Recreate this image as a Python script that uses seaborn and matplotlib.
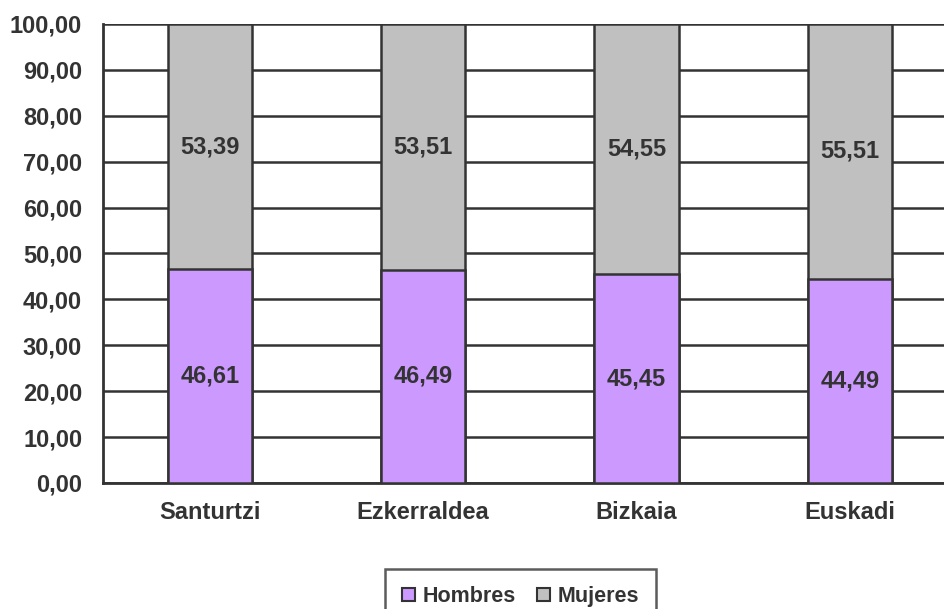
import pandas as pd
import matplotlib.pyplot as plt
import seaborn as sns
from matplotlib.patches import Patch

regions = ["Santurtzi", "Ezkerraldea", "Bizkaia", "Euskadi"]
hombres = [46.61, 46.49, 45.45, 44.49]
mujeres = [53.39, 53.51, 54.55, 55.51]
yticks = [0, 10, 20, 30, 40, 50, 60, 70, 80, 90, 100]

df = pd.DataFrame({"region": regions, "Hombres": hombres, "Mujeres": mujeres})
df["total"] = df["Hombres"] + df["Mujeres"]

sns.set_theme(style="white")
plt.rcParams["font.family"] = ["Liberation Sans", "DejaVu Sans"]
plt.rcParams["font.weight"] = "bold"

ink = "#333333"
purple = "#CC99FF"
grey = "#C0C0C0"
fs = 17

fig = plt.figure(figsize=(9.44, 6.09), dpi=100)
ax = fig.add_axes([0.1091, 0.2069, 0.8909, 0.7537])

# grey = full stack, purple drawn over it
sns.barplot(data=df, x="region", y="total", color=grey, width=0.394,
            edgecolor=ink, linewidth=1.8, saturation=1, ax=ax, zorder=3)
sns.barplot(data=df, x="region", y="Hombres", color=purple, width=0.394,
            edgecolor=ink, linewidth=1.8, saturation=1, ax=ax, zorder=4)

for i, (h, m) in enumerate(zip(hombres, mujeres)):
    ax.text(i, h / 2, f"{h:.2f}".replace(".", ","), ha="center", va="center",
            fontsize=fs, fontweight="bold", color=ink, zorder=5)
    ax.text(i, h + m / 2, f"{m:.2f}".replace(".", ","), ha="center", va="center",
            fontsize=fs, fontweight="bold", color=ink, zorder=5)

ax.set_ylim(0, 100)
ax.set_xlim(-0.5, 3.441)
ax.set_yticks(yticks)
ax.set_yticklabels([f"{v:.2f}".replace(".", ",") for v in yticks])
ax.yaxis.grid(True, color=ink, linewidth=1.8, zorder=0)
ax.set_axisbelow(True)

ax.set_xticks([-0.5, 0.5, 1.5, 2.5], minor=True)
ax.tick_params(axis="x", which="major", length=0, pad=13, labelsize=fs, colors=ink)
ax.tick_params(axis="x", which="minor", length=5, width=1.8, color=ink, direction="out")
ax.tick_params(axis="y", length=5, width=1.8, color=ink, labelsize=fs, labelcolor=ink, pad=10)
for lab in ax.get_xticklabels() + ax.get_yticklabels():
    lab.set_fontweight("bold")

ax.set_xlabel("")
ax.set_ylabel("")
for s in ["top", "right"]:
    ax.spines[s].set_visible(False)
for s in ["left", "bottom"]:
    ax.spines[s].set_color(ink)
    ax.spines[s].set_linewidth(2)

handles = [Patch(facecolor=purple, edgecolor=ink, linewidth=1.5, label="Hombres"),
           Patch(facecolor=grey, edgecolor=ink, linewidth=1.5, label="Mujeres")]
leg = fig.legend(handles=handles, loc="upper center", bbox_to_anchor=(0.5514, 0.0657),
                 ncol=2, frameon=True, fancybox=False, fontsize=15.5, borderaxespad=0,
                 handlelength=0.6, handleheight=0.6, handletextpad=0.35,
                 columnspacing=1.0, borderpad=0.8)
leg.get_frame().set_edgecolor(ink)
leg.get_frame().set_linewidth(1.8)
for t in leg.get_texts():
    t.set_fontweight("bold")
    t.set_color(ink)

fig.savefig("out.png", dpi=100)
